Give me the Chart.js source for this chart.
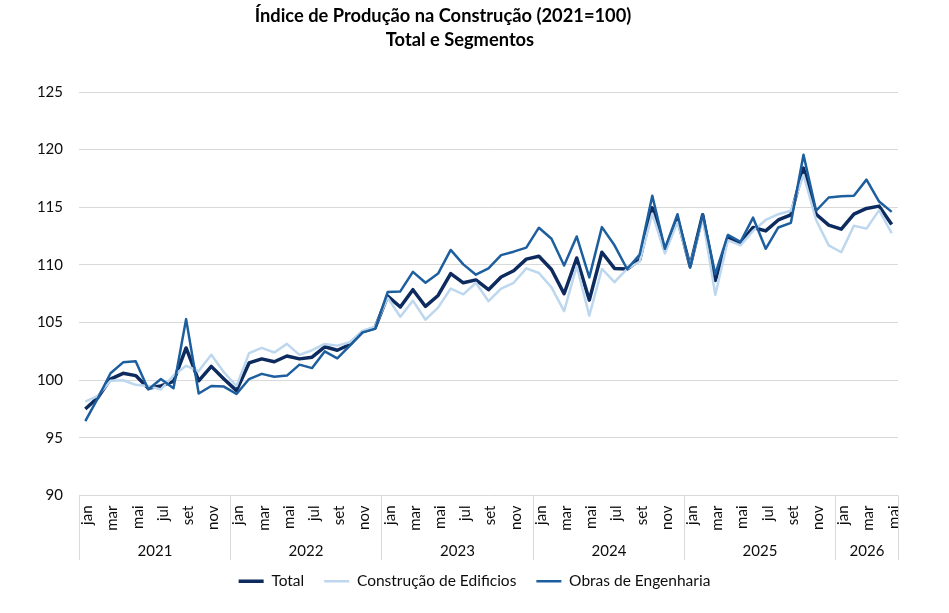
<!DOCTYPE html>
<html>
<head>
<meta charset="utf-8">
<script src="https://cdn.jsdelivr.net/npm/chart.js@4/dist/chart.umd.min.js"></script>
<style>
html,body{margin:0;padding:0;background:#fff;}
#wrap{width:949px;height:613px;position:relative;}
</style>
</head>
<body>
<div id="wrap"><canvas id="c" width="949" height="613"></canvas></div>
<script>
const titleLines = ['Índice de Produção na Construção (2021=100)', 'Total e Segmentos'];
const monthNames = ['jan','fev','mar','abr','mai','jun','jul','ago','set','out','nov','dez'];
const years = ['2021','2022','2023','2024','2025','2026'];
const monthsPerYear = [12, 12, 12, 12, 12, 5];
const seriesNames = ['Total', 'Construção de Edificios', 'Obras de Engenharia'];

const total = [
  97.5, 98.5, 100.1, 100.6, 100.4, 99.3, 99.5, 99.9, 102.8, 99.95, 101.2, 100.1,
  99.1, 101.5, 101.85, 101.6, 102.1, 101.85, 102.0, 102.9, 102.6, 103.1, 104.2, 104.55,
  107.3, 106.35, 107.85, 106.4, 107.35, 109.25, 108.45, 108.7, 107.85, 108.95, 109.5, 110.5,
  110.75, 109.6, 107.5, 110.6, 106.95, 111.1, 109.7, 109.65, 110.45, 114.95, 111.25, 114.0,
  109.9, 114.35, 108.65, 112.4, 111.9, 113.25, 112.95, 113.9, 114.35, 118.4, 114.4, 113.45,
  113.1, 114.4, 114.9, 115.1, 113.5
];
const edificios = [
  98.15, 98.65, 99.95, 100.0, 99.6, 99.5, 99.2, 100.4, 101.25, 100.8, 102.2, 100.7,
  99.5, 102.35, 102.8, 102.4, 103.15, 102.2, 102.6, 103.15, 103.0, 103.3, 104.3, 104.65,
  107.15, 105.5, 106.9, 105.25, 106.3, 107.95, 107.45, 108.45, 106.85, 107.95, 108.45, 109.7,
  109.3, 108.05, 106.0, 109.9, 105.6, 109.65, 108.5, 109.65, 110.3, 114.45, 111.0, 113.7,
  109.9, 114.05, 107.4, 112.15, 111.7, 112.95, 113.9, 114.4, 114.7, 117.8, 113.9, 111.7,
  111.1, 113.4, 113.15, 114.75, 112.75
];
const obras = [
  96.45, 98.45, 100.6, 101.55, 101.65, 99.2, 100.1, 99.3, 105.3, 98.85, 99.5, 99.45,
  98.8, 100.1, 100.55, 100.3, 100.4, 101.35, 101.05, 102.5, 101.9, 103.0, 104.15, 104.45,
  107.65, 107.7, 109.4, 108.45, 109.25, 111.3, 110.05, 109.15, 109.7, 110.85, 111.15, 111.5,
  113.23, 112.27, 109.95, 112.47, 108.92, 113.28, 111.7, 109.65, 110.9, 116.0, 111.4, 114.4,
  109.75, 114.4, 109.2, 112.6, 112.0, 114.1, 111.4, 113.25, 113.65, 119.55, 114.7, 115.85,
  115.95, 116.0, 117.4, 115.5, 114.6
];

// categories: month + year
const categories = [];
years.forEach((y, k) => {
  for (let m = 0; m < monthsPerYear[k]; m++) categories.push(monthNames[m] + ' ' + y);
});

const FONT = 'Lato, "Liberation Sans", sans-serif';
const TEXT = '#0d0d0d';
const GRID = '#d9d9d9';

const titlePlugin = {
  id: 'customTitle',
  afterDraw(chart) {
    const ctx = chart.ctx;
    ctx.save();
    ctx.fillStyle = '#000';
    ctx.textAlign = 'center';
    ctx.textBaseline = 'alphabetic';
    ctx.font = 'bold 18.3px ' + FONT;
    ctx.fillText(titleLines[0], 443, 22);
    ctx.fillText(titleLines[1], 460, 46);
    ctx.restore();
  }
};

const yearPlugin = {
  id: 'yearGroups',
  afterDraw(chart) {
    const xs = chart.scales.x;
    const area = chart.chartArea;
    const ctx = chart.ctx;
    const half = (xs.getPixelForValue(1) - xs.getPixelForValue(0)) / 2;
    ctx.save();
    ctx.strokeStyle = GRID;
    ctx.lineWidth = 1;
    ctx.fillStyle = TEXT;
    ctx.font = '15px ' + FONT;
    ctx.textAlign = 'center';
    ctx.textBaseline = 'middle';
    let start = 0;
    monthsPerYear.forEach((n, k) => {
      const l = Math.round(xs.getPixelForValue(start) - half) + 0.5;
      const r = Math.round(xs.getPixelForValue(start + n - 1) + half) + 0.5;
      ctx.beginPath();
      ctx.moveTo(l, area.bottom); ctx.lineTo(l, 560);
      ctx.moveTo(r, area.bottom); ctx.lineTo(r, 560);
      ctx.stroke();
      ctx.fillText(years[k], (l + r) / 2, 551);
      start += n;
    });
    ctx.restore();
  }
};

new Chart(document.getElementById('c'), {
  type: 'line',
  data: {
    labels: categories,
    datasets: [
      { label: seriesNames[0], data: total, borderColor: '#0d2b5e', backgroundColor: '#0d2b5e', borderWidth: 3.5, order: 2 },
      { label: seriesNames[1], data: edificios, borderColor: '#bdd7ee', backgroundColor: '#bdd7ee', borderWidth: 2.5, order: 1 },
      { label: seriesNames[2], data: obras, borderColor: '#1c5e9e', backgroundColor: '#1c5e9e', borderWidth: 2.5, order: 0 }
    ]
  },
  options: {
    responsive: false,
    animation: false,
    devicePixelRatio: 1,
    elements: {
      point: { radius: 0, hoverRadius: 0 },
      line: { tension: 0, borderJoinStyle: 'round', fill: false }
    },
    layout: { padding: { top: 92, right: 0, left: 0, bottom: 14 } },
    scales: {
      x: {
        type: 'category',
        offset: true,
        grid: { display: false, drawTicks: false },
        border: { display: false },
        ticks: {
          autoSkip: false, maxRotation: 90, minRotation: 90, padding: 10,
          labelOffset: 2,
          font: { family: FONT, size: 15 }, color: TEXT,
          callback: (val, idx) => (idx % 2 === 0 ? categories[idx].split(' ')[0] : '')
        },
        afterFit(s) { s.height = 58; }
      },
      y: {
        min: 90, max: 125,
        ticks: { stepSize: 5, padding: 16, font: { family: FONT, size: 15 }, color: TEXT },
        grid: { color: GRID, lineWidth: 1, drawTicks: false },
        border: { display: false },
        afterFit(s) { s.width = 79; }
      },
      yRightSpace: {
        position: 'right',
        display: true,
        min: 90, max: 125,
        grid: { display: false, drawTicks: false },
        border: { display: false },
        ticks: { display: false },
        afterFit(s) { s.width = 51; }
      }
    },
    plugins: {
      title: { display: false },
      tooltip: { enabled: false },
      legend: {
        position: 'bottom',
        labels: {
          usePointStyle: true, pointStyle: 'line', pointStyleWidth: 25,
          padding: 20, color: TEXT,
          font: { family: FONT, size: 15.5 },
          sort: (a, b) => a.datasetIndex - b.datasetIndex
        }
      }
    }
  },
  plugins: [titlePlugin, yearPlugin]
});
</script>
</body>
</html>
